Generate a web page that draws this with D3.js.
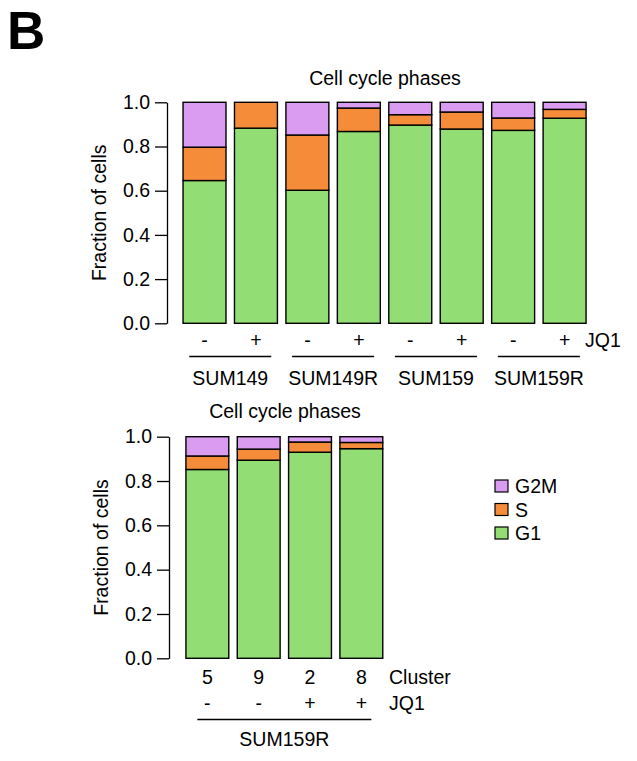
<!DOCTYPE html>
<html>
<head>
<meta charset="utf-8">
<script src="https://cdn.jsdelivr.net/npm/d3@7"></script>
<style>
  body { margin: 0; background: #fff; }
  svg text { font-family: "Liberation Sans", Arial, sans-serif; fill: #000; }
</style>
</head>
<body>
<div id="chart"></div>
<script>
// Data
const phases = ["G1", "S", "G2M"];
const legendOrder = ["G2M", "S", "G1"];
const phaseColors = ["#92de74", "#f48c3a", "#da9cf0"];

// top panel: 4 cell lines, -/+ JQ1
const topSamples = ["SUM149 -", "SUM149 +", "SUM149R -", "SUM149R +", "SUM159 -", "SUM159 +", "SUM159R -", "SUM159R +"];
const topJQ1 = ["-", "+", "-", "+", "-", "+", "-", "+"];
const topGroups = ["SUM149", "SUM149R", "SUM159", "SUM159R"];
const topG1 = [0.646, 0.883, 0.602, 0.868, 0.897, 0.879, 0.873, 0.928];
const topS = [0.151, 0.117, 0.250, 0.106, 0.047, 0.077, 0.056, 0.040];
const topG2M = [0.203, 0.000, 0.148, 0.026, 0.056, 0.044, 0.071, 0.032];

// bottom panel: SUM159R clusters
const clusters = ["5", "9", "2", "8"];
const botJQ1 = ["-", "-", "+", "+"];
const botGroup = "SUM159R";
const botG1 = [0.852, 0.894, 0.930, 0.946];
const botS = [0.061, 0.050, 0.046, 0.028];
const botG2M = [0.087, 0.056, 0.024, 0.026];

const yTicks = [0, 0.2, 0.4, 0.6, 0.8, 1.0];

const svg = d3.select("#chart").append("svg")
    .attr("width", 637)
    .attr("height", 761);

const color = d3.scaleOrdinal().domain(phases).range(phaseColors);
const fs = 19.5;

svg.append("text")
    .attr("x", 7)
    .attr("y", 49)
    .style("font-size", "53px")
    .style("font-weight", "bold")
    .text("B");

function drawPanel(opt) {
    const rows = opt.keys.map((k, i) => ({key: k, G1: opt.g1[i], S: opt.s[i], G2M: opt.g2m[i]}));
    const stacked = d3.stack().keys(phases)(rows);

    const x = d3.scaleBand()
        .domain(opt.keys)
        .range(opt.xRange)
        .paddingInner(0.165)
        .paddingOuter(0.0825);
    const y = d3.scaleLinear().domain([0, 1]).range(opt.yRange);

    const g = svg.append("g");

    g.append("text")
        .attr("x", opt.titleX)
        .attr("y", opt.titleY)
        .attr("text-anchor", "middle")
        .style("font-size", fs + "px")
        .text("Cell cycle phases");

    const axis = g.append("g")
        .attr("transform", `translate(${opt.axisX},0)`)
        .call(d3.axisLeft(y).tickValues(yTicks).tickFormat(d3.format(".1f")).tickSize(12).tickSizeOuter(0).tickPadding(5));
    axis.select(".domain").attr("stroke", "#000").attr("stroke-width", 1.3);
    axis.selectAll(".tick line").attr("stroke", "#000").attr("stroke-width", 1.3);
    axis.selectAll(".tick text")
        .style("font-size", fs + "px")
        .style("font-family", "'Liberation Sans', Arial, sans-serif")
        .attr("fill", "#000");

    g.append("text")
        .attr("transform", `translate(${opt.axisX - 61},${(opt.yRange[0] + opt.yRange[1]) / 2}) rotate(-90)`)
        .attr("text-anchor", "middle")
        .style("font-size", fs + "px")
        .text("Fraction of cells");

    g.selectAll("g.layer")
        .data(stacked)
        .enter()
        .append("g")
        .attr("class", "layer")
        .attr("fill", d => color(d.key))
        .selectAll("rect")
        .data(d => d)
        .enter()
        .append("rect")
        .attr("x", d => x(d.data.key))
        .attr("width", x.bandwidth())
        .attr("y", d => y(d[1]))
        .attr("height", d => y(d[0]) - y(d[1]))
        .attr("stroke", "#000")
        .attr("stroke-width", 1.4);

    return x;
}

// top panel
const xTop = drawPanel({
    keys: topSamples, g1: topG1, s: topS, g2m: topG2M,
    xRange: [178.8, 590.3], yRange: [323.3, 102.3], axisX: 167,
    titleX: 385, titleY: 85
});

svg.selectAll("text.topjq")
    .data(topSamples)
    .enter()
    .append("text")
    .attr("class", "topjq")
    .attr("x", (d, i) => xTop(d) + xTop.bandwidth() / 2)
    .attr("y", 347)
    .attr("text-anchor", "middle")
    .style("font-size", fs + "px")
    .text((d, i) => topJQ1[i]);

svg.append("text")
    .attr("x", 585)
    .attr("y", 347)
    .style("font-size", fs + "px")
    .text("JQ1");

topGroups.forEach((grp, gi) => {
    const a = xTop(topSamples[gi * 2]) + xTop.bandwidth() / 2;
    const b = xTop(topSamples[gi * 2 + 1]) + xTop.bandwidth() / 2;
    const mid = (a + b) / 2;
    svg.append("line")
        .attr("x1", mid - 41).attr("x2", mid + 41)
        .attr("y1", 356.5).attr("y2", 356.5)
        .attr("stroke", "#000").attr("stroke-width", 1.3);
    svg.append("text")
        .attr("x", mid)
        .attr("y", 385)
        .attr("text-anchor", "middle")
        .style("font-size", fs + "px")
        .text(grp);
});

// bottom panel
const xBot = drawPanel({
    keys: clusters, g1: botG1, s: botS, g2m: botG2M,
    xRange: [181.7, 387], yRange: [658.3, 436.7], axisX: 169,
    titleX: 285, titleY: 418
});

svg.selectAll("text.cl")
    .data(clusters)
    .enter()
    .append("text")
    .attr("class", "cl")
    .attr("x", d => xBot(d) + xBot.bandwidth() / 2)
    .attr("y", 684)
    .attr("text-anchor", "middle")
    .style("font-size", fs + "px")
    .text(d => d);

svg.selectAll("text.botjq")
    .data(clusters)
    .enter()
    .append("text")
    .attr("class", "botjq")
    .attr("x", d => xBot(d) + xBot.bandwidth() / 2)
    .attr("y", 710)
    .attr("text-anchor", "middle")
    .style("font-size", fs + "px")
    .text((d, i) => botJQ1[i]);

svg.append("text").attr("x", 389).attr("y", 684).style("font-size", fs + "px").text("Cluster");
svg.append("text").attr("x", 389).attr("y", 710).style("font-size", fs + "px").text("JQ1");

const bMid = (xBot(clusters[0]) + xBot(clusters[3]) + xBot.bandwidth()) / 2;
svg.append("line")
    .attr("x1", bMid - 87).attr("x2", bMid + 87)
    .attr("y1", 719.5).attr("y2", 719.5)
    .attr("stroke", "#000").attr("stroke-width", 1.3);
svg.append("text")
    .attr("x", bMid)
    .attr("y", 746)
    .attr("text-anchor", "middle")
    .style("font-size", fs + "px")
    .text(botGroup);

// legend
const legend = svg.append("g").attr("transform", "translate(495,480)");
legend.selectAll("g")
    .data(legendOrder)
    .enter()
    .append("g")
    .attr("transform", (d, i) => `translate(0,${i * 23.5})`)
    .each(function (d) {
        const gg = d3.select(this);
        gg.append("rect")
            .attr("width", 13).attr("height", 12)
            .attr("fill", color(d))
            .attr("stroke", "#000").attr("stroke-width", 1.2);
        gg.append("text")
            .attr("x", 20).attr("y", 13)
            .style("font-size", fs + "px")
            .text(d);
    });
</script>
</body>
</html>
